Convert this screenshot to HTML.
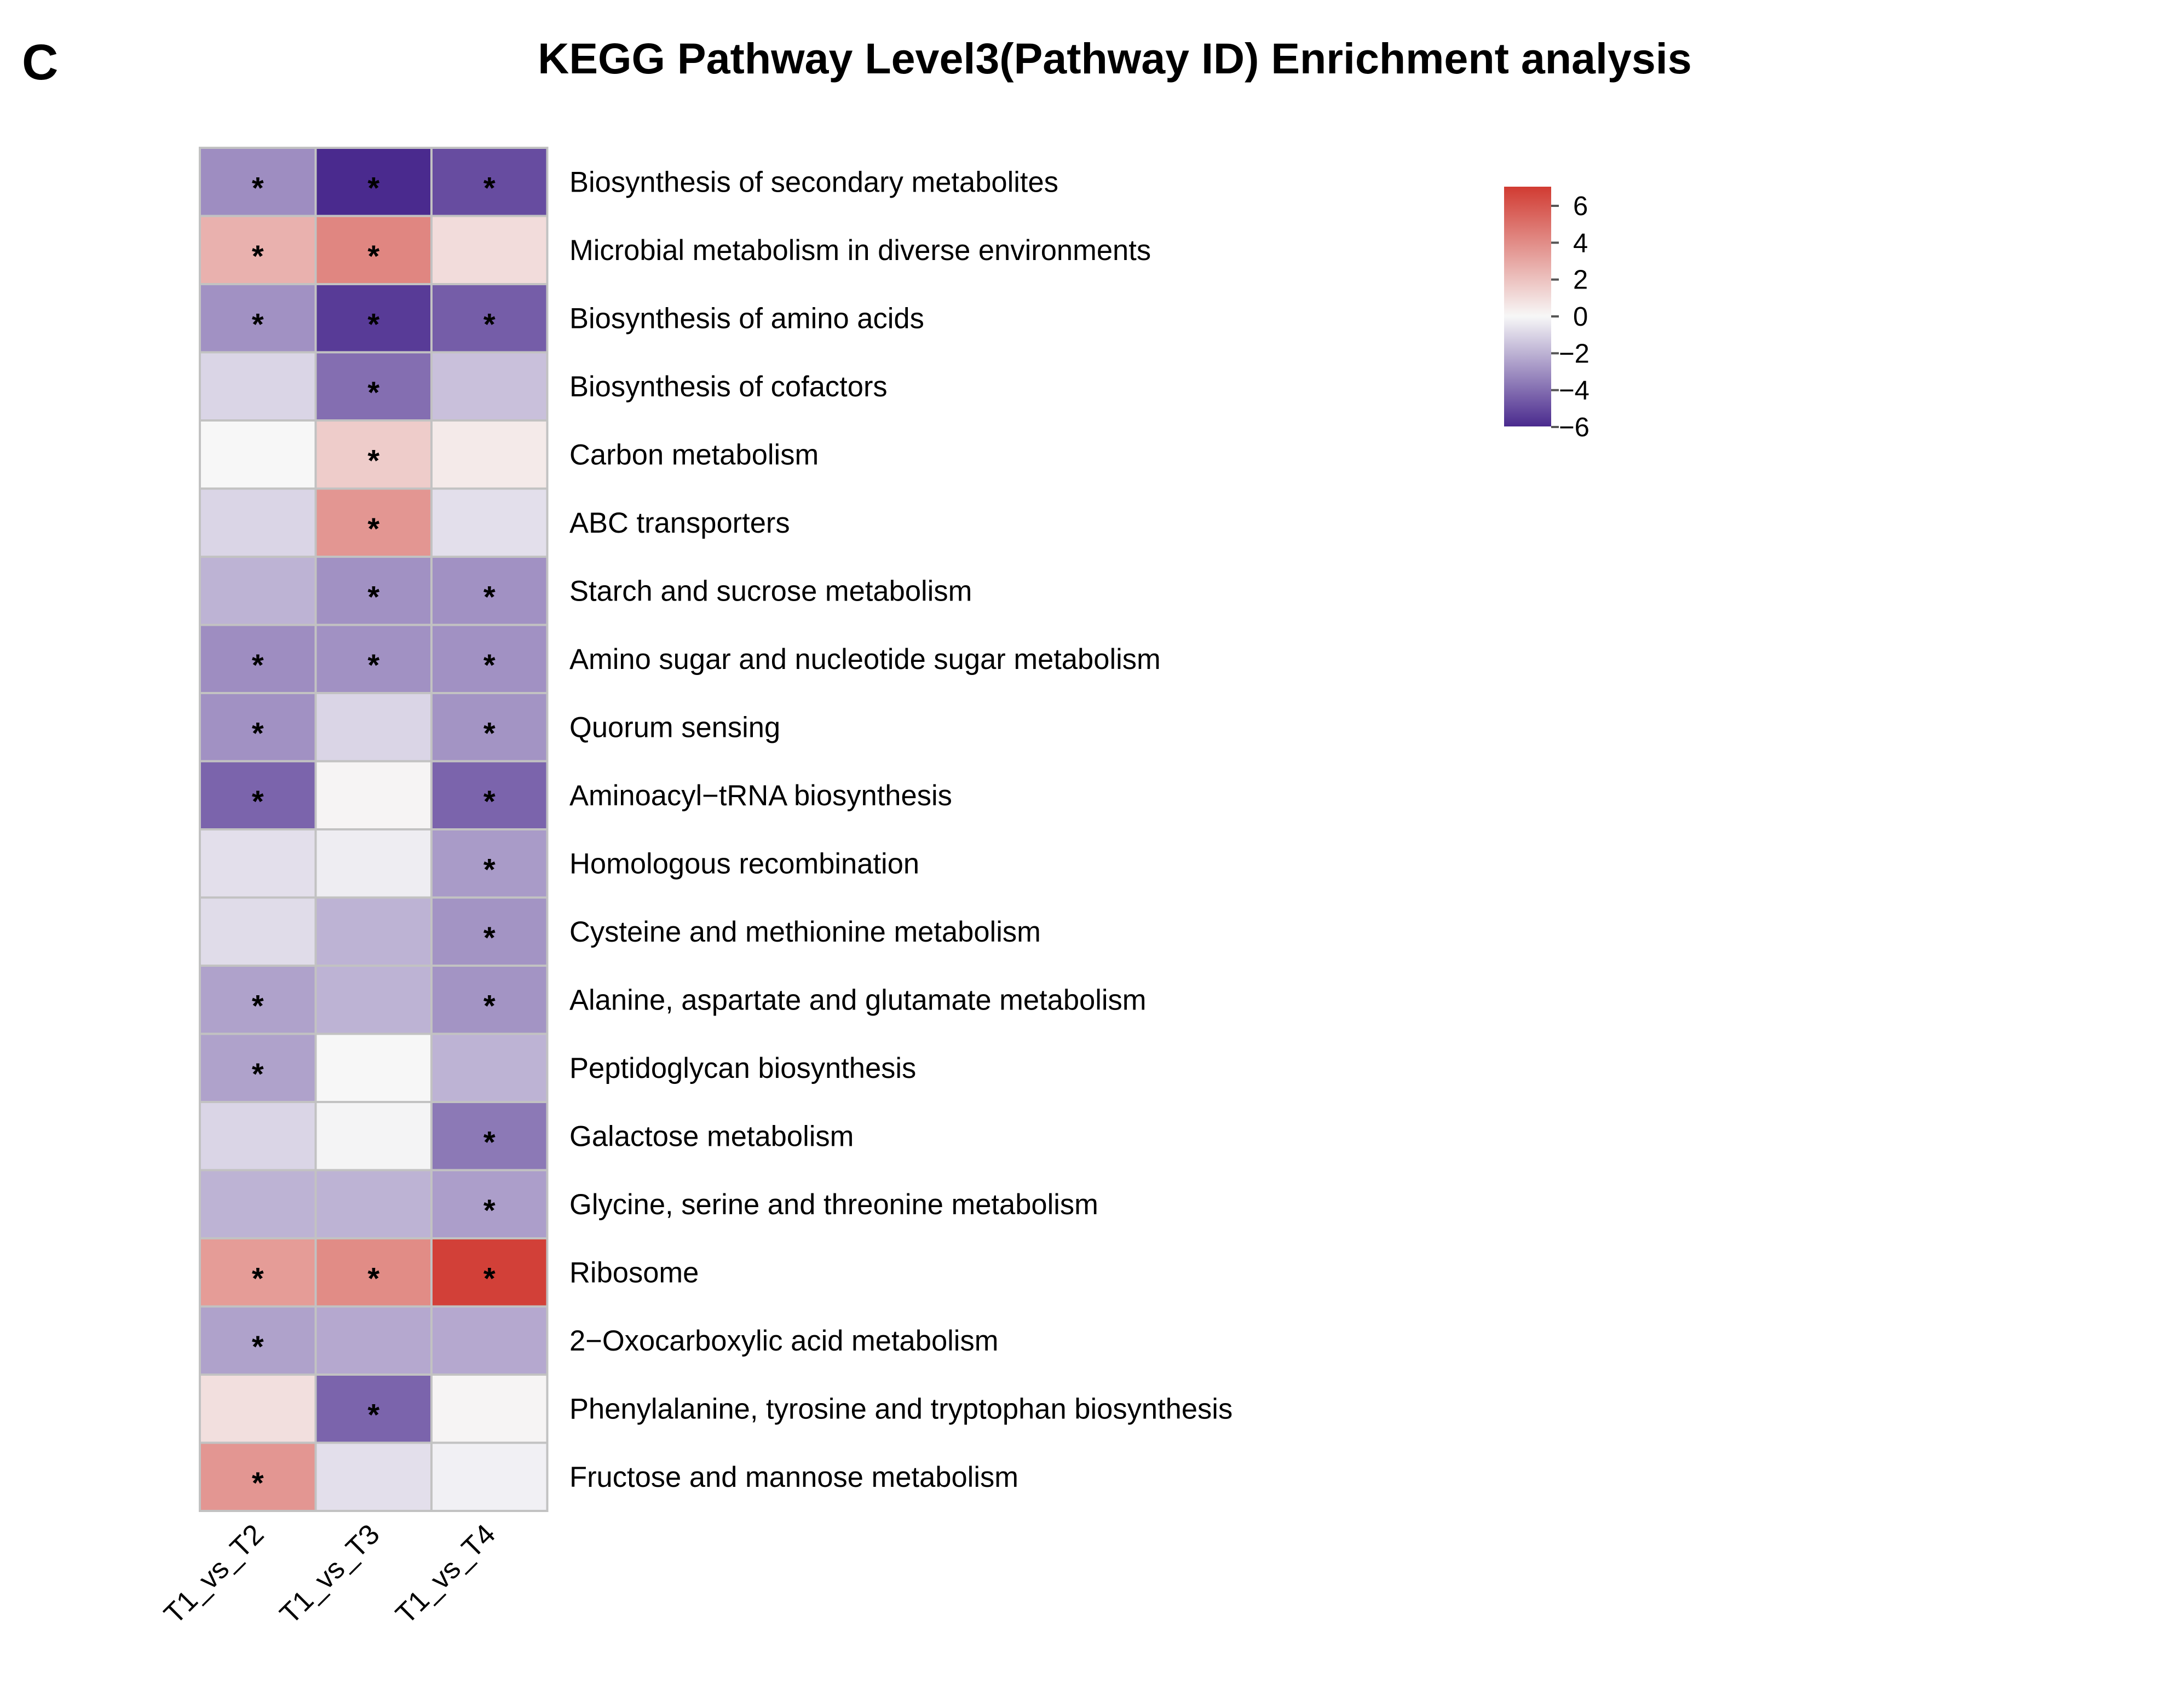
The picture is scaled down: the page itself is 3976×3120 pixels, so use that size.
<!DOCTYPE html>
<html><head><meta charset="utf-8">
<style>
html,body{margin:0;padding:0;background:#fff;}
svg{display:block;font-family:"Liberation Sans",Arial,sans-serif;}
</style></head>
<body>
<svg id="chart" width="3976" height="3120" viewBox="0 0 3976 3120" xmlns="http://www.w3.org/2000/svg">
<defs>
<linearGradient id="cbgrad" x1="0" y1="1" x2="0" y2="0">
<stop offset="0" stop-color="#4a2a8e"/>
<stop offset="0.46" stop-color="#f7f7f7"/>
<stop offset="1" stop-color="#d13b32"/>
</linearGradient>
</defs>
<text x="40" y="145" font-size="92" font-weight="bold">C</text>
<text x="2036" y="134" font-size="79" font-weight="bold" text-anchor="middle">KEGG Pathway Level3(Pathway ID) Enrichment analysis</text>
<g id="cells"></g>
<g id="rowlabels"></g>
<g id="collabels"></g>
<g id="legend">
<rect x="2762" y="341" width="86" height="438" fill="url(#cbgrad)"/>
</g>
</svg>
<script>
const pathways = ["Biosynthesis of secondary metabolites","Microbial metabolism in diverse environments","Biosynthesis of amino acids","Biosynthesis of cofactors","Carbon metabolism","ABC transporters","Starch and sucrose metabolism","Amino sugar and nucleotide sugar metabolism","Quorum sensing","Aminoacyl\u2212tRNA biosynthesis","Homologous recombination","Cysteine and methionine metabolism","Alanine, aspartate and glutamate metabolism","Peptidoglycan biosynthesis","Galactose metabolism","Glycine, serine and threonine metabolism","Ribosome","2\u2212Oxocarboxylic acid metabolism","Phenylalanine, tyrosine and tryptophan biosynthesis","Fructose and mannose metabolism"];
const comparisons = ["T1_vs_T2","T1_vs_T3","T1_vs_T4"];
const valuesT2 = [-3.1,2.6,-3.0,-1.0,0.0,-1.0,-2.0,-3.1,-3.0,-4.3,-0.7,-0.8,-2.5,-2.5,-1.0,-2.0,3.4,-2.5,0.9,3.6];
const valuesT3 = [-6.0,4.2,-5.5,-4.0,1.6,3.6,-3.0,-3.0,-1.0,0.1,-0.3,-2.0,-2.0,0.0,-0.1,-2.0,4.0,-2.3,-4.3,-0.7];
const valuesT4 = [-5.0,1.0,-4.5,-1.6,0.5,-0.7,-3.0,-3.0,-2.9,-4.3,-2.7,-2.9,-2.9,-2.0,-3.7,-2.6,6.8,-2.3,0.1,-0.2];
const sigT2 = [1,1,1,0,0,0,0,1,1,1,0,0,1,1,0,0,1,1,0,1];
const sigT3 = [1,1,1,1,1,1,1,1,0,0,0,0,0,0,0,0,1,0,1,0];
const sigT4 = [1,0,1,0,0,0,1,1,1,1,1,1,1,0,1,1,1,0,0,0];
const legendTicks = [6,4,2,0,-2,-4,-6];

const NS="http://www.w3.org/2000/svg";
const gx0=365, gy0=270, cw=211.5, rh=124.5;
const xPos=i=>gx0+i*cw;
const yPos=j=>gy0+j*rh;
const cbY=v=>376+(6-v)*(780-376)/12;
function lerp(a,b,t){return a.map((x,i)=>Math.round(x+(b[i]-x)*t));}
function color(v){
  const lo=[74,42,142], mid=[247,247,247], hi=[209,59,50];
  let c = v<0 ? lerp(mid,lo,Math.min(1,-v/6)) : lerp(mid,hi,Math.min(1,v/7));
  return `rgb(${c[0]},${c[1]},${c[2]})`;
}
function mk(tag,attrs,parent){const e=document.createElementNS(NS,tag);for(const k in attrs)e.setAttribute(k,attrs[k]);parent.appendChild(e);return e;}
const cells=document.getElementById('cells');
const series=[valuesT2,valuesT3,valuesT4];
const sigs=[sigT2,sigT3,sigT4];
for(let c=0;c<3;c++){
  for(let r=0;r<pathways.length;r++){
    const rect=mk('rect',{x:xPos(c),y:yPos(r),width:cw,height:rh,fill:color(series[c][r]),stroke:'#c2c2c2','stroke-width':4},cells);
    
    
    if(sigs[c][r]){
      const t=mk('text',{x:xPos(c)+cw/2,y:yPos(r)+rh/2+30,'font-size':56,'text-anchor':'middle','font-weight':'bold'},cells);
      t.textContent='*';
      
      
    }
  }
}
const rl=document.getElementById('rowlabels');
pathways.forEach((p,r)=>{
  const t=mk('text',{x:1040,y:yPos(r)+rh/2+18,'font-size':52.5},rl);
  t.textContent=p;
  
  
});
const cl=document.getElementById('collabels');
comparisons.forEach((c,i)=>{
  const x=xPos(i)+cw/2+14, y=2806;
  const t=mk('text',{x:x,y:y,'font-size':52,'text-anchor':'end',transform:`rotate(-45 ${x} ${y})`},cl);
  t.textContent=c;
  
  
});
const lg=document.getElementById('legend');
lg.setAttribute('transform','translate(-15,0)');
legendTicks.forEach(v=>{
  const y=cbY(v);
  const l=mk('line',{x1:2848,x2:2862,y1:y,y2:y,stroke:'#555','stroke-width':4},lg);
  
  
  const t=mk('text',{x:v<0?2862:2888,y:y+17,'font-size':49},lg);
  t.textContent=v<0?'\u2212'+(-v):String(v);
  
  
});
</script>
</body></html>
